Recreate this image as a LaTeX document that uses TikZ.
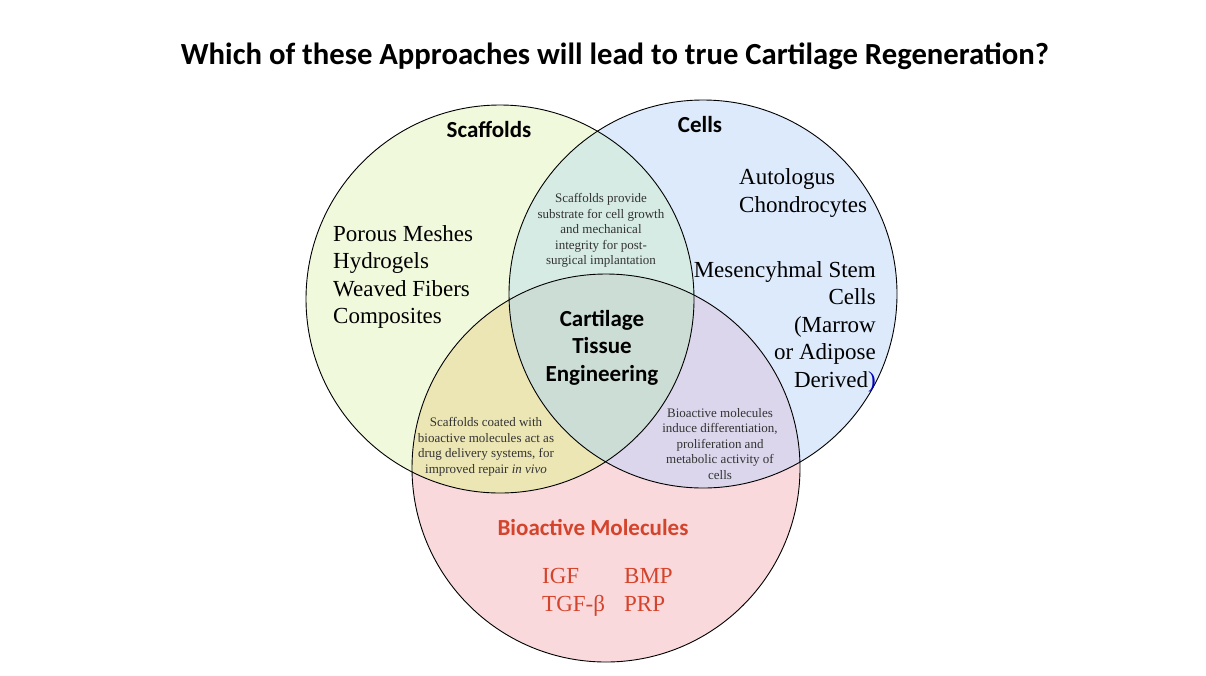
\documentclass[tikz,border=0pt]{standalone}
\usepackage{fontspec}
\setmainfont{Liberation Serif}
\newfontfamily\calibri{Carlito}

\definecolor{scafcol}{HTML}{F1F9DC}
\definecolor{cellcol}{HTML}{DCEAFB}
\definecolor{biocol}{HTML}{F9D9DB}
\definecolor{sccol}{HTML}{D6EBE4}
\definecolor{sbcol}{HTML}{ECE6B5}
\definecolor{cbcol}{HTML}{DBD6EC}
\definecolor{midcol}{HTML}{CCDDD6}
\definecolor{biored}{HTML}{D4432B}

\tikzstyle{head}=[font=\calibri\bfseries\fontsize{23}{27.5}\selectfont, anchor=base, align=center, inner sep=0]
\tikzstyle{big}=[font=\fontsize{23}{27.5}\selectfont, anchor=base, inner sep=0]
\tikzstyle{small}=[font=\fontsize{13}{15.4}\selectfont, text=black!80, anchor=base, align=center, inner sep=0]

\begin{document}
\begin{tikzpicture}[x=1pt, y=-1pt]
	\useasboundingbox[fill=white] (0,0) rectangle (1206,675);

	\coordinate (scaf) at (500,299);
	\coordinate (cell) at (703,294);
	\coordinate (bio) at (606,468);

	% circles and their overlaps
	\fill[scafcol] (scaf) circle (194pt);
	\fill[cellcol] (cell) circle (194pt);
	\fill[biocol] (bio) circle (194pt);
	\begin{scope}
		\clip (scaf) circle (194pt);
		\fill[sccol] (cell) circle (194pt);
		\fill[sbcol] (bio) circle (194pt);
	\end{scope}
	\begin{scope}
		\clip (cell) circle (194pt);
		\fill[cbcol] (bio) circle (194pt);
	\end{scope}
	\begin{scope}
		\clip (scaf) circle (194pt);
		\clip (cell) circle (194pt);
		\fill[midcol] (bio) circle (194pt);
	\end{scope}
	\foreach \c in {scaf, cell, bio} {
		\draw[line width=0.9pt] (\c) circle (194pt);
	};

	% multi-line nodes sit on the baseline of their last line
	\node[head, font=\calibri\bfseries\fontsize{30.7}{36}\selectfont] (title) at (615,64)
		{Which of these Approaches will lead to true Cartilage Regeneration?};

	\node[head] (scaflabel) at (489,137) {Scaffolds};
	\node[head] (celllabel) at (700,132) {Cells};
	\node[head, text=biored] (biolabel) at (593,535) {Bioactive Molecules};
	\node[head] (cte) at (602,381) {Cartilage\\Tissue\\Engineering};

	\node[big, anchor=base west, align=left] (scaflist) at (333,323.5)
		{Porous Meshes\\Hydrogels\\Weaved Fibers\\Composites};
	\node[big, anchor=base west, align=left] (chondro) at (739,212) {Autologus\\Chondrocytes};
	\node[big, anchor=base east, align=right] (msc) at (876,387)
		{Mesencyhmal Stem\\Cells\\(Marrow\\or Adipose\\Derived{\color{blue!75!black})}};

	\node[small] (sctext) at (601,264.5)
		{Scaffolds provide\\substrate for cell growth\\and mechanical\\integrity for post-\\surgical implantation};
	\node[small] (sbtext) at (486,473)
		{Scaffolds coated with\\bioactive molecules act as\\drug delivery systems, for\\improved repair \textit{in vivo}};
	\node[small] (cbtext) at (720,479)
		{Bioactive molecules\\induce differentiation,\\proliferation and\\metabolic activity of\\cells};

	\node[big, anchor=base west, text=biored, align=left] (igf) at (542,611) {IGF\\TGF-β};
	\node[big, anchor=base west, text=biored, align=left] (bmp) at (624,611) {BMP\\PRP};
\end{tikzpicture}
\end{document}
